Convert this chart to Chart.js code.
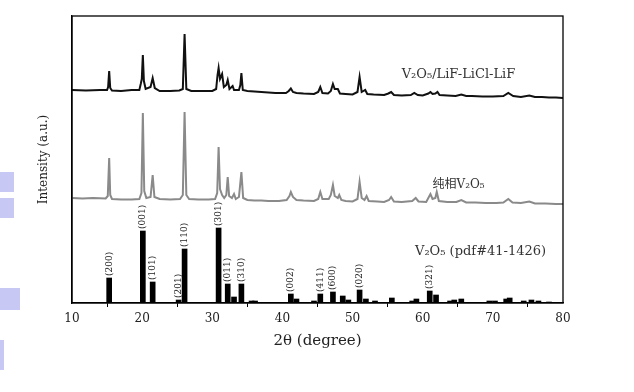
<!DOCTYPE html>
<html>
<head>
<meta charset="utf-8">
<script src="https://cdn.jsdelivr.net/npm/chart.js@4.4.1/dist/chart.umd.min.js"></script>
<style>
  html, body { margin: 0; padding: 0; background: #fff; }
  #wrap { position: relative; width: 634px; height: 392px; overflow: hidden; }
  canvas { position: absolute; left: 0; top: 0; }
  .deco { position: absolute; left: 0; background: #c8c8f4; }
</style>
</head>
<body>
<div id="wrap">
  <canvas id="c" width="634" height="392"></canvas>
  <div class="deco" style="top:172px;width:14px;height:20px"></div>
  <div class="deco" style="top:198px;width:14px;height:20px"></div>
  <div class="deco" style="top:288px;width:20px;height:22px"></div>
  <div class="deco" style="top:340px;width:4px;height:30px"></div>
</div>
<script>
// ---- data (2θ in degrees, intensity in arbitrary stacked units) ----
const xTicks = [10, 20, 30, 40, 50, 60, 70, 80];

const compositePattern = [
  [10,213],[12,212.5],[14,213],[15.0,213],[15.15,216],[15.3,232],[15.45,215],[15.7,212.5],
  [17,212],[18.5,213],[19.6,213],[19.8,219],[19.95,224],[20.1,248],[20.25,222],[20.5,214],
  [21.2,216],[21.5,225],[21.8,215],[22.5,212],[24,212],[25.3,212.5],[25.8,214],[26.05,269],
  [26.3,214],[27,212],[28.5,212],[30,212],[30.55,214],[30.75,228],[30.9,235],[31.1,224],
  [31.4,229],[31.65,216],[32.0,218],[32.2,223],[32.45,214],[32.9,217],[33.1,213],[33.8,213],
  [34.0,218],[34.15,230],[34.35,213],[35.0,212],[36,211.5],[37,211],[38,210.5],[39,210],
  [40.5,210],[40.9,212],[41.2,214.5],[41.5,211],[42,210],[43,209.5],[44.5,209],[45.1,211],
  [45.4,216],[45.7,210],[46.5,209.5],[46.9,212],[47.2,219],[47.45,214],[47.9,214],[48.2,209.5],
  [49,209],[50,208.5],[50.7,211],[51.0,226],[51.3,211],[51.8,213],[52.1,209],[53,208.5],
  [54.5,208],[55.1,209.5],[55.5,211],[55.9,208],[57,207.5],[58.3,208],[58.8,210],[59.3,208],
  [60,207.5],[60.8,209.5],[61.1,211],[61.4,209],[61.8,209.5],[62.1,211],[62.4,208],[63.5,207.5],
  [64.7,207],[65.5,208.5],[66.2,207],[67,207],[68.5,206.5],[70,206.5],[71.5,207],[72.2,210],
  [72.9,207],[74,206],[75.2,207.5],[76,206],[77,206],[78,205.5],[79,205.5],[80,205]
];

const purePattern = [
  [10,105],[11.5,104.5],[13,105],[14.8,104.5],[15.1,107],[15.3,145],[15.45,108],[15.7,104],
  [17,103.5],[18.5,103.5],[19.6,104],[19.9,110],[20.1,190],[20.3,112],[20.6,105],[21.2,106],
  [21.5,128],[21.75,106],[22.5,104],[24,103.5],[25.4,104],[25.8,108],[26.05,191],[26.3,108],
  [26.7,104],[28,103.5],[29.5,103.5],[30.4,104],[30.7,110],[30.9,156],[31.1,114],[31.4,108],
  [31.7,105],[32.0,108],[32.2,126],[32.4,107],[32.8,105],[33.1,109],[33.35,104],[33.8,106],
  [34.15,131],[34.4,105],[35.0,103],[36,102.5],[37,102.5],[38,102],[39.5,102],[40.6,103],
  [41.0,107],[41.2,111],[41.5,106],[42,103],[43,102.5],[44.5,102],[45.1,104],[45.4,111],
  [45.7,104],[46.6,104],[46.9,108],[47.2,118],[47.45,107],[47.9,105],[48.1,108],[48.4,103],
  [49,102],[50,101.5],[50.7,104],[51.0,121],[51.3,105],[51.7,103],[52.0,107],[52.3,102],
  [53.5,101.5],[54.5,101],[55.2,103],[55.5,106],[55.9,101.5],[57,101],[58.5,102],[59.0,105],
  [59.4,101.5],[60.5,101],[61.1,109],[61.4,104],[61.8,105],[62.0,111],[62.3,102],[63.5,101],
  [64.8,101],[65.5,103],[66.2,100.5],[67.5,100.5],[69,100],[70.5,100],[71.5,100.5],[72.2,104],
  [72.8,100.5],[74,100],[75.2,101.5],[76,99.5],[77.5,99.5],[79,99],[80,99]
];

const stickAngles  = [15.3, 20.1, 21.5, 25.2, 26.05, 30.9, 32.2, 33.1, 34.15, 35.6, 36.1,
                      41.2, 42.0, 44.5, 45.4, 47.2, 48.6, 49.4, 51.0, 51.9, 53.2, 55.6,
                      58.5, 59.1, 61.0, 61.9, 63.9, 64.5, 65.5, 69.5, 70.3, 71.9, 72.4,
                      74.4, 75.5, 76.5, 78.0];
const stickHeights = [25, 72, 21, 3, 54, 75, 19, 6, 19, 2, 2,
                      9, 4, 2, 9, 11, 7, 3, 13, 4, 2, 5,
                      2, 4, 12, 8, 2, 3, 4, 2, 2, 4, 5,
                      2, 3, 2, 1];

const hklText  = ['(200)', '(001)', '(101)', '(201)', '(110)', '(301)', '(011)', '(310)',
                  '(002)', '(411)', '(600)', '(020)', '(321)'];
const hklAngle = [15.3, 20.1, 21.5, 25.2, 26.05, 30.9, 32.2, 34.15,
                  41.2, 45.4, 47.2, 51.0, 61.0];

const seriesNames = ['V\u2082O\u2085/LiF-LiCl-LiF', '\u7eaf\u76f8V\u2082O\u2085', 'V\u2082O\u2085 (pdf#41-1426)'];

// ---- chart ----
const SERIF = '"DejaVu Serif", "Liberation Serif", serif';

const toPts = arr => arr.map(p => ({ x: p[0], y: p[1] }));
const sticks = stickAngles.map((a, i) => ({ x: a, y: stickHeights[i] }));

const annotate = {
  id: 'annotate',
  afterDatasetsDraw(chart) {
    const { ctx, chartArea: a, scales: { x, y } } = chart;
    ctx.save();
    // frame
    ctx.strokeStyle = '#000';
    ctx.lineWidth = 1.3;
    ctx.strokeRect(a.left, a.top, a.right - a.left, a.bottom - a.top);
    // hkl labels
    ctx.fillStyle = '#222';
    ctx.font = '9px ' + SERIF;
    ctx.textAlign = 'left';
    ctx.textBaseline = 'middle';
    hklText.forEach((t, i) => {
      const ang = hklAngle[i];
      const h = stickHeights[stickAngles.indexOf(ang)];
      const px = x.getPixelForValue(ang);
      const py = y.getPixelForValue(h) - 2;
      ctx.save();
      ctx.translate(px, py);
      ctx.rotate(-Math.PI / 2);
      ctx.fillText(t, 0, 0);
      ctx.restore();
    });
    // series names
    const pos = chart.options.plugins.annotate.names;
    ctx.fillStyle = '#333';
    pos.forEach((p, i) => {
      ctx.font = p.size + 'px ' + SERIF + ', "Noto Sans CJK SC"';
      ctx.textBaseline = 'middle';
      ctx.fillText(seriesNames[i], x.getPixelForValue(p.x), y.getPixelForValue(p.y));
    });
    ctx.restore();
  }
};

new Chart(document.getElementById('c'), {
  type: 'line',
  data: {
    datasets: [
      { label: seriesNames[0], data: toPts(compositePattern), borderColor: '#111', borderWidth: 2,
        pointRadius: 0, tension: 0, fill: false },
      { label: seriesNames[1], data: toPts(purePattern), borderColor: '#8a8a8a', borderWidth: 2,
        pointRadius: 0, tension: 0, fill: false },
      { type: 'bar', label: seriesNames[2], data: sticks, backgroundColor: '#000', borderWidth: 0,
        barThickness: 5, grouped: false }
    ]
  },
  options: {
    responsive: false,
    animation: false,
    events: [],
    layout: { padding: { top: 16, right: 71, bottom: 0, left: 0 } },
    plugins: {
      legend: { display: false },
      tooltip: { enabled: false },
      annotate: { names: [ { x: 57.0, y: 228, size: 13 }, { x: 61.4, y: 118, size: 12 }, { x: 58.9, y: 51, size: 13 } ] }
    },
    scales: {
      x: {
        type: 'linear', min: 10, max: 80, offset: false,
        afterBuildTicks: s => { s.ticks = xTicks.map(v => ({ value: v })); },
        afterFit: s => { s.height = 89; },
        ticks: { font: { family: SERIF, size: 12 }, color: '#222', padding: 5, maxRotation: 0 },
        grid: { display: true, drawOnChartArea: false, drawTicks: true, tickLength: 4, color: '#000', lineWidth: 1 },
        border: { display: true, color: '#000', width: 1.3 },
        title: { display: true, text: '2\u03b8 (degree)', font: { family: SERIF, size: 15 }, color: '#222',
                 padding: { top: 0, bottom: 42 } }
      },
      y: {
        min: 0, max: 287,
        afterFit: s => { s.width = 72; },
        ticks: { display: false },
        grid: { display: true, drawOnChartArea: false, drawTicks: false },
        border: { display: true, color: '#000', width: 1.3 },
        title: { display: true, text: 'Intensity (a.u.)', font: { family: SERIF, size: 12 }, color: '#222',
                 padding: { top: 37, bottom: 0 } }
      }
    }
  },
  plugins: [annotate]
});
</script>
</body>
</html>
